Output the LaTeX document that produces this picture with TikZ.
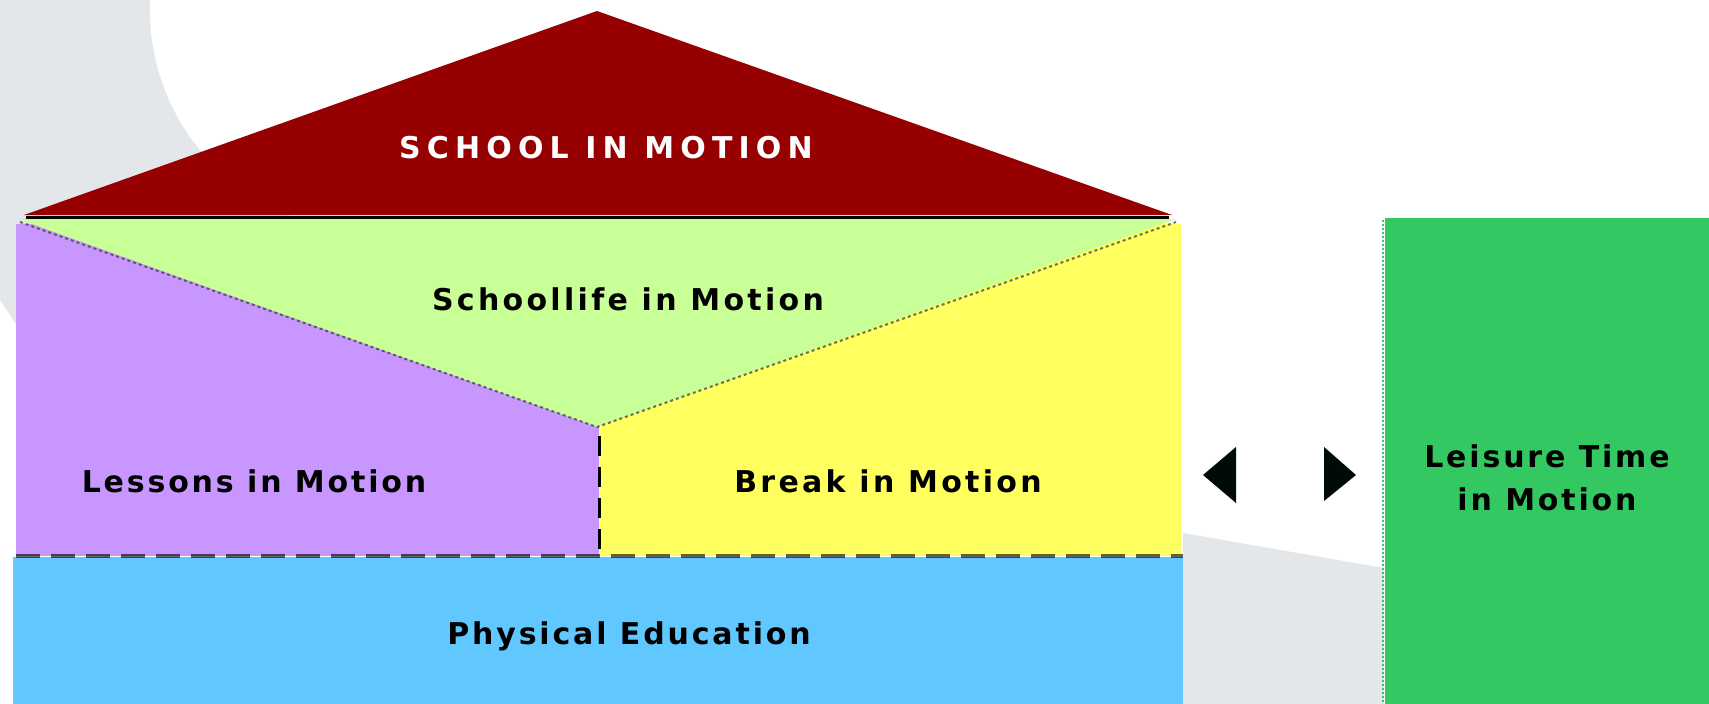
\documentclass[tikz,border=0pt]{standalone}
\usepackage{fontspec}
\setmainfont{DejaVu Sans}
\newfontfamily\lblfont{DejaVu Sans}[LetterSpace=9.5]
\newfontfamily\widefont{DejaVu Sans}[LetterSpace=11]
\newfontfamily\capsfont{DejaVu Sans}[LetterSpace=20.5]
\definecolor{roofred}{HTML}{960000}
\definecolor{lgreen}{HTML}{C8FF96}
\definecolor{lpurple}{HTML}{C896FF}
\definecolor{lyellow}{HTML}{FFFF60}
\definecolor{lblue}{HTML}{60C8FF}
\definecolor{boxgreen}{HTML}{33C862}
\definecolor{bggray}{HTML}{E4E7EA}
\definecolor{arrowc}{HTML}{000A08}
\begin{document}
\begin{tikzpicture}[x=1pt,y=-1pt,
  lbl/.style={font=\lblfont\bfseries\fontsize{30}{43}\selectfont, inner sep=0pt, text=black, align=center},
  widelbl/.style={lbl, font=\widefont\bfseries\fontsize{30}{43}\selectfont},
  capslbl/.style={font=\capsfont\bfseries\fontsize{30}{43}\selectfont, inner sep=0pt, text=white},
  slantline/.style={draw=black!75, opacity=0.75, line width=2pt, dash pattern=on 3pt off 3pt},
  hdashline/.style={draw=black, opacity=0.62, line width=4pt, dash pattern=on 24pt off 11pt},
  vdashline/.style={draw=black, line width=3pt, dash pattern=on 20pt off 11pt}]
\useasboundingbox (0,0) rectangle (1709,704);
\fill[white] (0,0) rectangle (1709,704);
% background
\fill[bggray] (0,0) -- (380,0) -- (380,330) -- (40,360) -- (0,300) -- cycle;
\fill[white] (371,10) circle[radius=221];
\fill[bggray] (1183,533) -- (1384,568) -- (1384,704) -- (1183,704) -- cycle;
% roof
\fill[roofred] (24,215) -- (597,11) -- (1172,215) -- cycle;
% body
\fill[lpurple] (16,224) rectangle (599,556);
\fill[lyellow] (599,224) rectangle (1181,556);
\fill[lgreen] (18,219) -- (1176,219) -- (597,427) -- cycle;
\draw[slantline] (20,222) -- (597,427) -- (1176,222);
\draw[line width=3pt] (26,217.5) -- (1169,217.5);
\fill[lblue] (13,557) rectangle (1183,704);
\draw[hdashline] (16,556) -- (1183,556);
\draw[vdashline] (599,436) -- (599,554);
% leisure box
\fill[boxgreen] (1385,218) rectangle (1709,704);
\draw[boxgreen, line width=2pt, dash pattern=on 2pt off 2pt] (1383,220) -- (1383,704);
% arrow heads
\fill[arrowc] (1203,475) -- (1236,447) -- (1236,503) -- cycle;
\fill[arrowc] (1324,447) -- (1356,475) -- (1324,501) -- cycle;
% labels
\node[capslbl] (school) at (606,148) {SCHOOL IN MOTION};
\node[widelbl] (schoollife) at (628,299) {Schoollife in Motion};
\node[lbl] (lessons) at (254,481) {Lessons in Motion};
\node[widelbl] (break) at (888,481) {Break in Motion};
\node[lbl] (pe) at (629,636) {Physical Education};
\node[lbl] (leisure) at (1547,478) {Leisure Time\\in Motion};
\end{tikzpicture}
\end{document}
